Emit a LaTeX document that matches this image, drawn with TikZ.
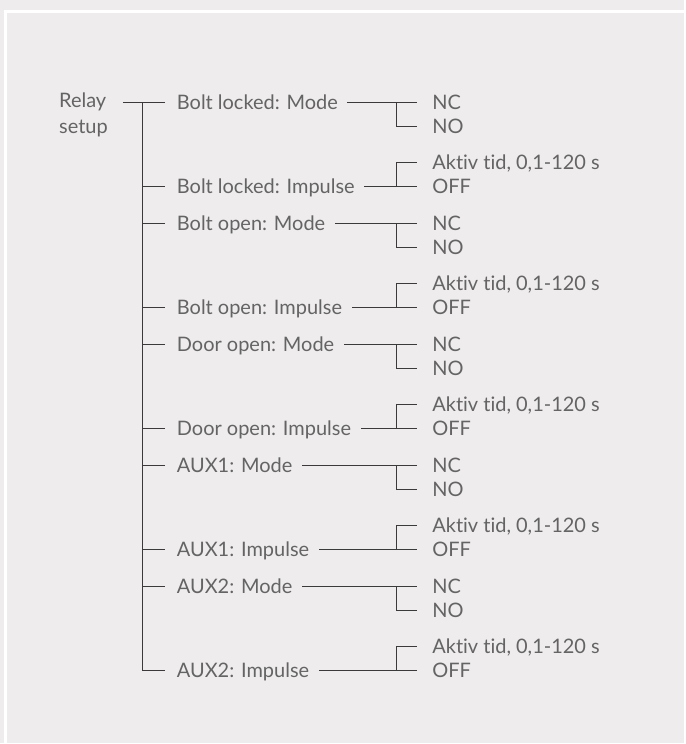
\documentclass[tikz,border=0pt]{standalone}
\usepackage{fontspec}
\setmainfont{Lato}[Ligatures={CommonOff}]
\usetikzlibrary{calc,positioning}
\definecolor{panelgray}{HTML}{EEECED}
\definecolor{inkgray}{HTML}{646464}
\definecolor{wiregray}{HTML}{3A3A3A}
\tikzset{
    relay tree/.style = {x=0.75pt, y=-0.75pt},
    line/.style       = {draw=wiregray, line width=0.95pt, line cap=rect},
    item/.style       = {anchor=base west, inner sep=0pt, text=inkgray,
                         font=\fontsize{15}{19.5}\selectfont},
    opt/.style        = {item},
    frame/.style      = {draw=white, line width=2.25pt}
}
\def\trunkx{143}
\def\labelx{177}
\def\splitx{397}
\def\optx{433}

\begin{document}
\begin{tikzpicture}[relay tree]

% ================= Panel =================
\fill[panelgray] (0,0) rectangle (685,744);
\draw[frame] (5.5,744) -- (5.5,11.5) -- (685,11.5);
\useasboundingbox (0,0) rectangle (685,744);

% ================= Root =================
\node[item, align=left] (root) at (59,134) {Relay\\setup};

% ================= Mode / Impulse groups =================
\foreach \name [count=\i from 0] in {Bolt locked, Bolt open, Door open, AUX1, AUX2} {
    \pgfmathsetmacro\ym{103+121.2*\i}
    \pgfmathsetmacro\yi{\ym+84}
    \coordinate (m\i) at (\trunkx,\ym);
    \coordinate (i\i) at (\trunkx,\yi);
    \coordinate (ms\i) at (\splitx,\ym);
    \coordinate (is\i) at (\splitx,\yi);

    % mode: NC / NO
    \node[item] (mode\i) at (\labelx,\ym+7) {\name: Mode};
    \node[opt] (nc\i) at (\optx,\ym+7) {NC};
    \node[opt] (no\i) at (\optx,\ym+31) {NO};
    \draw[line] (m\i) -- ($(m\i -| mode\i.west)+(-12,0)$);
    \draw[line] ($(ms\i -| mode\i.east)+(10,0)$) -- ($(ms\i -| nc\i.west)+(-16,0)$);
    \draw[line] (ms\i) |- ($(ms\i -| no\i.west)+(-16,24)$);

    % impulse: active time / OFF
    \node[item] (imp\i) at (\labelx,\yi+7) {\name: Impulse};
    \node[opt] (akt\i) at (\optx,\yi-17) {Aktiv tid, 0,1-120 s};
    \node[opt] (off\i) at (\optx,\yi+7) {OFF};
    \draw[line] (i\i) -- ($(i\i -| imp\i.west)+(-12,0)$);
    \draw[line] ($(is\i -| imp\i.east)+(10,0)$) -- ($(is\i -| off\i.west)+(-16,0)$);
    \draw[line] (is\i) |- ($(is\i -| akt\i.west)+(-16,-24)$);
}

% ================= Trunk =================
\draw[line] ($(m0 -| root.east)+(16,0)$) -- (m0);
\draw[line] (m0) -- (i4);

\end{tikzpicture}
\end{document}
